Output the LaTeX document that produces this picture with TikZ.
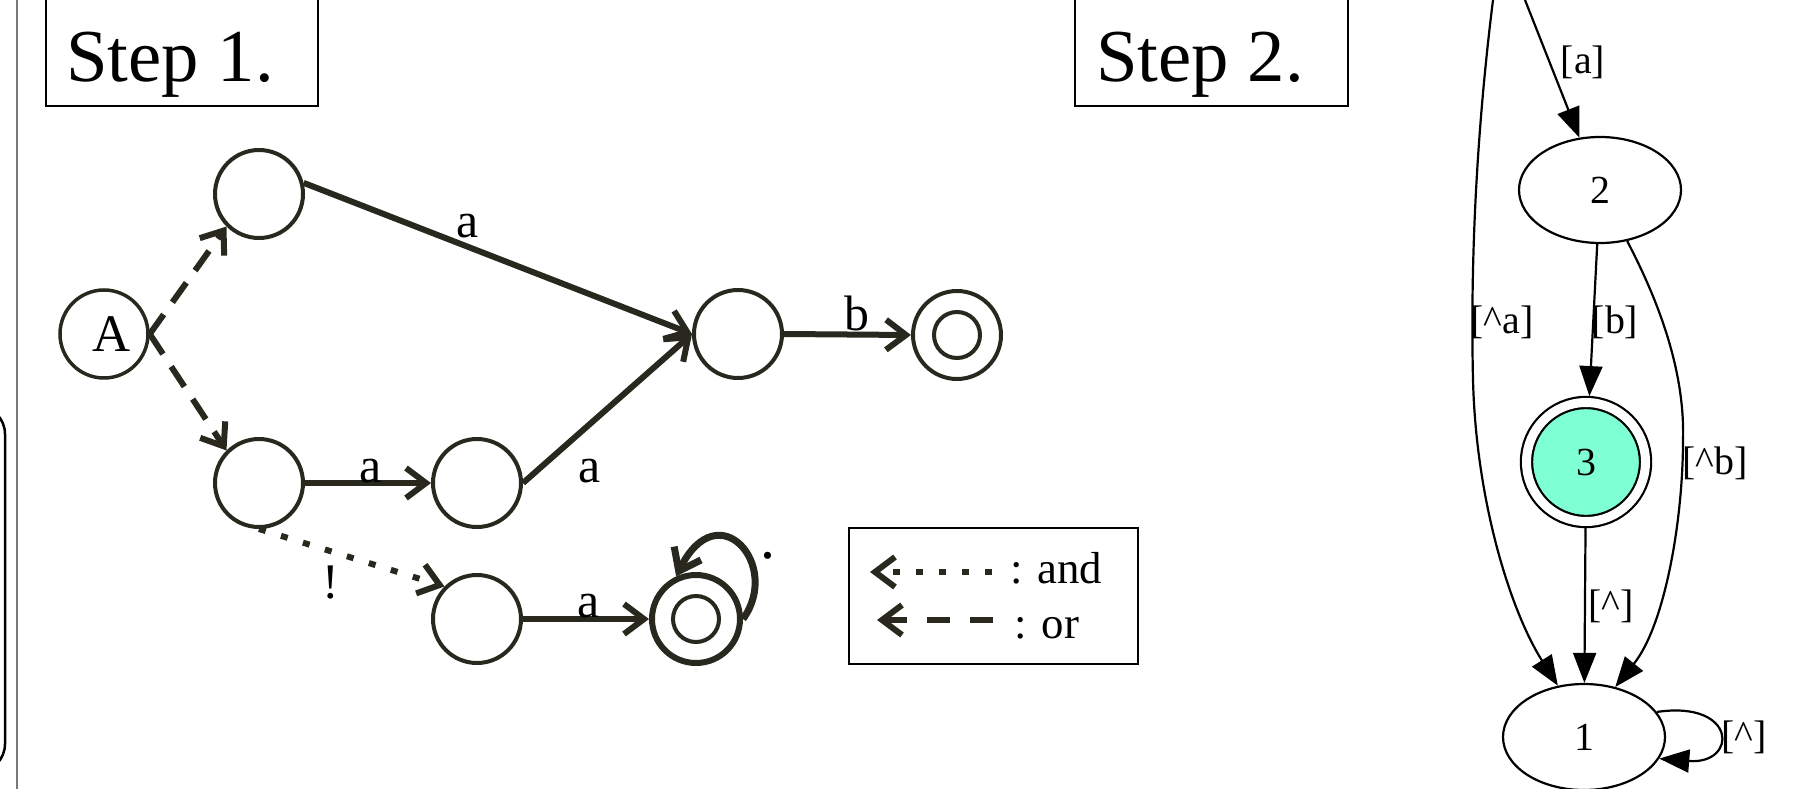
\documentclass[tikz,border=0pt]{standalone}
\usepackage{fontspec}
\setmainfont{Liberation Serif}
\usetikzlibrary{arrows.meta,shapes.geometric}
\definecolor{ink}{RGB}{40,40,30}
\definecolor{accept}{RGB}{127,255,212}
\definecolor{rule}{RGB}{120,120,120}

\begin{document}
\begin{tikzpicture}[x=1bp,y=-1bp,
  state/.style={circle, draw=ink, line width=4bp, minimum size=88bp, inner sep=0pt},
  trans/.style={draw=ink, line width=6bp, -{Straight Barb[length=20bp,width=30bp]}},
  orarc/.style={trans, dash pattern=on 24bp off 15bp},
  andarc/.style={trans, dash pattern=on 7bp off 16bp},
  lbl/.style={font=\fontsize{50}{54}\selectfont, inner sep=0pt, anchor=base},
  gvnode/.style={ellipse, draw, line width=2.2bp, minimum width=162bp, minimum height=106bp, inner sep=0pt, font=\fontsize{40}{44}\selectfont},
  gvedge/.style={draw, line width=2.2bp, -{Triangle[length=30bp,width=23bp]}},
  gvlbl/.style={font=\fontsize{40}{44}\selectfont, inner sep=0pt},
  stepbox/.style={draw, line width=1.8bp, inner sep=0pt, anchor=south west, minimum height=140bp},
  steptext/.style={font=\fontsize{75}{78}\selectfont, anchor=base west, inner sep=0pt},
]
\useasboundingbox (0,0) rectangle (1802,789);

% left margin: rule and bracket
\draw[rule, line width=2bp] (16.5,0) -- (16.5,789);
\draw[line width=2.5bp, rounded corners=28bp] (-40,406) -- (5,406) -- (5,772) -- (-40,772);

% ---------- Step 1 ----------
\node[stepbox, minimum width=272bp] (box1) at (45,107) {};
\node[steptext] (step1) at (66,82) {Step 1.};

\node[state, line width=3.5bp, font=\fontsize{53}{56}\selectfont] (A) at (104,334) {\hspace*{16bp}\raisebox{-5bp}{A}};
\node[state] (n1) at (259,194) {};
\node[state] (n2) at (259,483) {};
\node[state] (n3) at (477,483) {};
\node[state] (n4) at (738,334) {};
\node[state] (n5) at (957,335) {};
\node[state, minimum size=46bp] (n5i) at (957,335) {};
\node[state] (n6) at (477,619) {};
\node[state, line width=6bp] (n7) at (696,619) {};
\node[state, minimum size=46bp] (n7i) at (696,619) {};

\draw[orarc] (A.east) -- (n1.south west);
\draw[orarc] (A.east) -- (n2.north west);
\draw[trans] (n1.14) -- (n4.west);
\draw[trans] (n2.east) -- (n3.west);
\draw[trans] (n3.east) -- (n4.west);
\draw[trans] (n4.east) -- (n5.west);
\draw[trans] (n6.east) -- (n7.west);
\draw[andarc] (n2.south) -- (n6.north west);
\draw[trans, line width=7bp] (n7.east) .. controls (782,565) and (718,492) .. (n7.115);

\node[lbl] (la1) at (468,237) {a};
\node[lbl] (la2) at (371,482) {a};
\node[lbl] (la3) at (590,482) {a};
\node[lbl] (lb) at (857,330) {b};
\node[lbl] (la4) at (589,617) {a};
\node[lbl] (lnot) at (331,598) {!};
\node[lbl, font=\fontsize{60}{64}\selectfont] (ldot) at (768,558) {.};

% legend
\node[draw, line width=1.8bp, minimum width=289bp, minimum height=136bp, anchor=north west, inner sep=0pt] (legend) at (848,527) {};
\coordinate (andR) at (992,572);
\coordinate (andL) at (870,572);
\draw[andarc] (andR) -- (andL);
\coordinate (orR) at (993,620);
\coordinate (orL) at (877,620);
\draw[orarc, dash pattern=on 23bp off 20bp] (orR) -- (orL);
\node[anchor=base west, font=\fontsize{45}{48}\selectfont, inner sep=0pt] (land) at (1010,583) {: and};
\node[anchor=base west, font=\fontsize{45}{48}\selectfont, inner sep=0pt] (lor) at (1014,638) {: or};

% ---------- Step 2 ----------
\node[stepbox, minimum width=273bp] (box2) at (1074,107) {};
\node[steptext] (step2) at (1096,82) {Step 2.};

\coordinate (top0) at (1493,0);
\coordinate (top1) at (1525,0);
\node[gvnode] (g2) at (1600,190) {2};
\node[circle, draw, line width=2.2bp, double=white, double distance=9bp, fill=accept, minimum size=119bp, inner sep=0pt, outer sep=6.5bp, font=\fontsize{40}{44}\selectfont] (g3) at (1586,462) {3};
\node[gvnode] (g1) at (1584,737) {1};

\draw[gvedge] (top1) -- (g2);
\draw[gvedge] (top0) .. controls (1478,120) and (1470,250) .. (1473,380) .. controls (1476,500) and (1510,610) .. (g1.117);
\draw[gvedge] (g2) -- (g3);
\draw[gvedge] (g2.-62) .. controls (1658,300) and (1685,370) .. (1683,440) .. controls (1683,520) and (1665,625) .. (g1.58);
\draw[gvedge] (g3) -- (g1);
\draw[gvedge] (g1.19) .. controls (1738,700) and (1738,765) .. (g1.-16);

\node[gvlbl] (ga) at (1583,62) {[a]};
\node[gvlbl] (gna) at (1502,322) {[\textasciicircum a]};
\node[gvlbl] (gb) at (1615,322) {[b]};
\node[gvlbl] (gnb) at (1715,463) {[\textasciicircum b]};
\node[gvlbl] (gany) at (1611,606) {[\textasciicircum]};
\node[gvlbl] (gloop) at (1744,737) {[\textasciicircum]};
\end{tikzpicture}
\end{document}
